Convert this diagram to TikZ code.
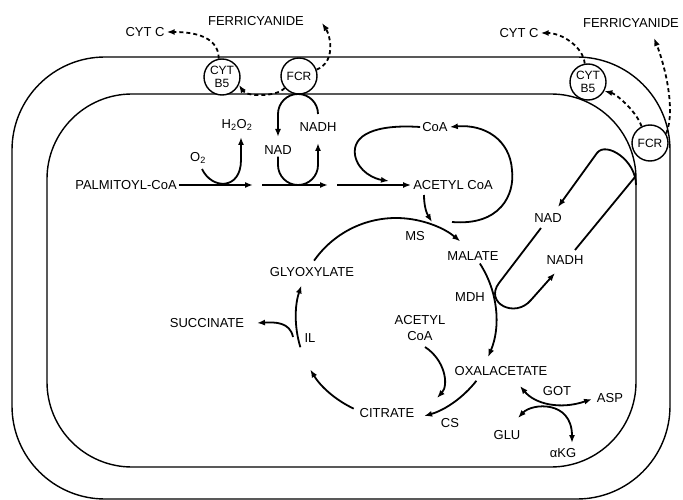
\documentclass[tikz,border=0pt]{standalone}
\usepackage{fontspec}
\setmainfont{Liberation Sans}
\usetikzlibrary{arrows.meta,calc}
\begin{document}
\begin{tikzpicture}[x=1pt,y=1pt,
  lbl/.style={font=\fontsize{13}{14}\selectfont, inner sep=2pt},
  mem/.style={line width=1.4pt},
  tipx/.tip={Latex[length=8pt,width=6pt]},
  rx/.style={line width=1.8pt, -tipx},
  rxx/.style={line width=1.8pt, tipx-tipx},
  plain/.style={line width=1.8pt},
  dsh/.style={line width=1.8pt, dash pattern=on 4pt off 3pt, -tipx},
  enz/.style={circle, draw, line width=1.4pt, fill=white, minimum size=36pt, inner sep=0pt, align=center, font=\fontsize{12}{12.5}\selectfont}]
\useasboundingbox (0,0) rectangle (683,-500);
% membranes
\draw[mem, rounded corners=93pt] (12,-57) rectangle (670,-499);
\draw[mem, rounded corners=85pt] (47,-94) rectangle (636,-467);

% enzymes in membrane
\node[enz] (b5L) at (222,-77) {CYT\\B5};
\node[enz] (fcrL) at (299,-76) {FCR};
\node[enz] (b5R) at (588,-82) {CYT\\B5};
\node[enz] (fcrR) at (650,-143) {FCR};

% labels
\node[lbl] (cytcL) at (145,-32) {CYT C};
\node[lbl] (ferL) at (256,-21) {FERRICYANIDE};
\node[lbl] (cytcR) at (519,-33) {CYT C};
\node[lbl] (ferR) at (631,-23) {FERRICYANIDE};
\node[lbl] (h2o2) at (237,-125) {H\textsubscript{2}O\textsubscript{2}};
\node[lbl] (o2) at (198,-158) {O\textsubscript{2}};
\node[lbl] (nadA) at (278,-150) {NAD};
\node[lbl] (nadhA) at (318,-127) {NADH};
\node[lbl] (palm) at (126,-185) {PALMITOYL-CoA};
\node[lbl] (coa) at (435,-127) {CoA};
\node[lbl] (acoa) at (453,-185) {ACETYL CoA};
\node[lbl] (ms) at (415,-236) {MS};
\node[lbl] (mal) at (473,-256) {MALATE};
\node[lbl] (mdh) at (470,-297) {MDH};
\node[lbl] (nadB) at (548,-218) {NAD};
\node[lbl] (nadhB) at (565,-260) {NADH};
\node[lbl] (gly) at (312,-272) {GLYOXYLATE};
\node[lbl] (succ) at (207,-323) {SUCCINATE};
\node[lbl] (il) at (310,-338) {IL};
\node[lbl] (cit) at (387,-413) {CITRATE};
\node[lbl, align=center, font=\fontsize{13}{16}\selectfont] (acoa2) at (420,-328) {ACETYL\\CoA};
\node[lbl] (oxa) at (501,-371) {OXALACETATE};
\node[lbl] (cs) at (450,-423) {CS};
\node[lbl] (got) at (557,-391) {GOT};
\node[lbl] (asp) at (610,-398) {ASP};
\node[lbl] (glu) at (507,-435) {GLU};
\node[lbl] (akg) at (563,-453) {αKG};

% dashed electron transfers
\coordinate (ferLtip) at (322,-23);
\coordinate (ferRtip) at (654,-38);
\draw[dsh] (b5L.100) .. controls +(0,25) and +(20,0) .. (cytcL.east);
\draw[dsh] (fcrL.220) .. controls +(-8,-9) and +(8,-12) .. (b5L.-25);
\draw[dsh] (fcrL.20) .. controls +(20,8) and +(8,-12) .. (ferLtip);
\draw[dsh] (b5R.100) .. controls +(-2,18) and +(20,0) .. (cytcR.east);
\draw[dsh] (fcrR.30) .. controls +(10,25) and +(10,-25) .. (ferRtip);
\draw[dsh] (fcrR.117) .. controls +(-5,15) and +(12,-3) .. (b5R.-29);

% beta-oxidation line
\coordinate (a1e) at (253,-185);
\coordinate (a2s) at (262,-185);
\coordinate (a2e) at (328,-185);
\coordinate (a3s) at (337,-185);
\draw[rx] (palm.east) -- (a1e);
\draw[rx] (a2s) -- (a2e);
\draw[rx] (a3s) -- (acoa.west);

% O2 -> H2O2
\coordinate (h2tip) at (241,-137);
\draw[rx] (202,-169) .. controls (212,-190) and (241,-190) .. (241,-160) -- (h2tip);
% NAD/NADH loops
\coordinate (nadtip) at (278,-137);
\coordinate (nadhtip) at (318,-143);
\draw[rx] (318,-114) arc[start angle=0,end angle=180,radius=20] -- (nadtip);
\draw[rx] (nadA.south) -- (278,-165) arc[start angle=180,end angle=360,radius=20] -- (nadhtip);

% CoA loops
\coordinate (coatip) at (389,-181);
\draw[rx] (coa.west) .. controls (375,-124) and (352,-135) .. (355,-155) .. controls (358,-172) and (375,-179) .. (coatip);
\coordinate (loopst) at (452,-222);
\draw[rx] (loopst) .. controls (500,-226) and (515,-195) .. (512,-170) .. controls (510,-140) and (485,-124) .. (coa.east);
\coordinate (mstip) at (432,-222);
\draw[rx] (424,-195) .. controls (424,-207) and (427,-214) .. (mstip);

% glyoxylate cycle
\coordinate (cen) at (396,-318);
\draw[rx] ($(cen)+(145:100)$) arc[start angle=145,end angle=50,radius=100];
\draw[rx] ($(cen)+(33:100)$) arc[start angle=33,end angle=-23,radius=100];
\draw[rx] ($(cen)+(-38:102)$) arc[start angle=-38,end angle=-74,radius=102];
\draw[rx] ($(cen)+(245:100)$) arc[start angle=245,end angle=211,radius=100];
\draw[rx] ($(cen)+(197:100)$) arc[start angle=197,end angle=161,radius=100];
\coordinate (succtip) at (257,-323);
\draw[rx] (293,-337) .. controls (290,-322) and (275,-322) .. (succtip);
\coordinate (cittip) at (437,-398);
\draw[rx] (425,-347) .. controls (445,-360) and (449,-385) .. (cittip);

% MDH shuttle capsule
\draw[rx] (636,-185) .. controls (636,-160) and (606,-141) .. (597,-153) -- (558,-207);
\draw[rx] (541,-228) -- (499,-283) .. controls (484,-303) and (515,-319) .. (531,-300) -- (555,-273);
\draw[plain] (575,-250) -- (635,-177);

% GOT
\draw[rxx] (520,-386) .. controls (535,-404) and (560,-410) .. (592,-399);
\draw[rxx] (518,-418) .. controls (532,-403) and (572,-400) .. (572,-443);
\end{tikzpicture}
\end{document}
